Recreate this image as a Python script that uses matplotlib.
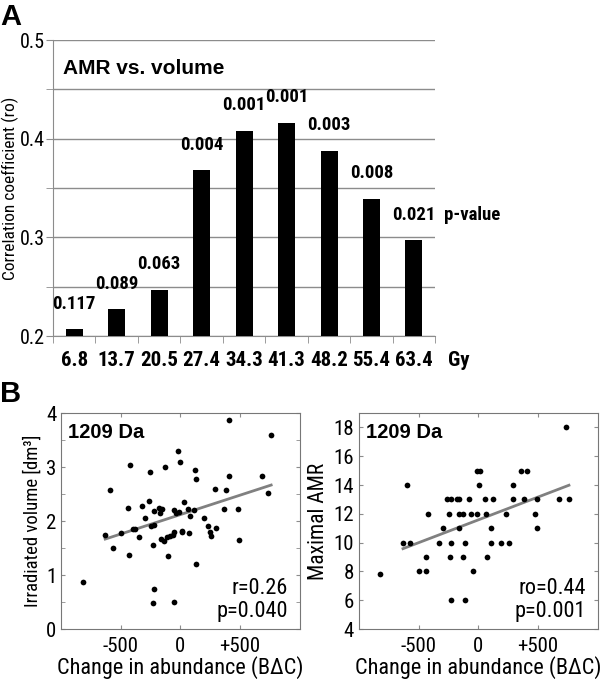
import numpy as np
import matplotlib
matplotlib.use("Agg")
import matplotlib.pyplot as plt
from matplotlib.ticker import FixedLocator

plt.rcParams['font.family'] = ['Roboto Condensed', 'Encode Sans Condensed', 'Roboto', 'DejaVu Sans']
WIDE = ['Liberation Sans', 'DejaVu Sans']

# panel A: correlation coefficient per dose level
dose_labels = ['6.8', '13.7', '20.5', '27.4', '34.3', '41.3', '48.2', '55.4', '63.4']
corr_ro = [0.207, 0.227, 0.247, 0.368, 0.408, 0.416, 0.388, 0.339, 0.297]
p_values = ['0.117', '0.089', '0.063', '0.004', '0.001', '0.001', '0.003', '0.008', '0.021']

# panel B left: change in abundance vs irradiated volume
vol_x = [-816, -628, -592, -567, -497, -433, -436, -419, -397, -377, -346, -324, -293,
         -260, -251, -246, -223, -223, -229, -223, -229, -176, -168, -156, -162, -134,
         -126, -112, -103, -84, -61, -56, -50, -50, -34, -22, -8, 0, 14, 17, 34, 67,
         70, 84, 120, 117, 131, 134, 201, 235, 246, 260, 293, 296, 369, 385, 408, 408,
         480, 494, 682, 735, 760]
vol_y = [0.88, 1.75, 2.58, 1.51, 1.78, 1.38, 2.25, 3.04, 1.86, 1.86, 1.71, 2.27, 2.05,
         2.37, 2.91, 1.91, 2.19, 1.92, 1.56, 0.75, 0.48, 2.24, 2.15, 2.23, 1.66, 1.63,
         3.00, 1.70, 1.36, 1.73, 1.75, 2.21, 1.80, 0.50, 2.15, 3.29, 2.17, 3.10, 1.80,
         1.82, 2.35, 2.22, 1.78, 2.10, 2.94, 2.21, 2.77, 1.21, 2.05, 1.90, 1.80, 1.72,
         2.60, 1.88, 2.22, 2.58, 3.88, 2.84, 2.23, 1.65, 2.83, 2.52, 3.59]
vol_fit = (0.00072, 2.12)   # slope, intercept of the drawn regression line

# panel B right: change in abundance vs maximal AMR
amr_x = [-821, -632, -593, -570, -500, -437, -437, -420, -325, -296, -258, -244, -230,
         -236, -230, -230, -180, -158, -163, -160, -130, -130, -107, -107, -74, -63,
         -40, -12, -7, 15, 7, 60, 63, 77, 107, 107, 127, 194, 233, 258, 294, 294, 358,
         381, 406, 476, 490, 495, 673, 732, 757]
amr_y = [7.8, 10, 14, 10, 8, 9, 8, 12, 10, 11, 13, 12, 13, 9, 10, 6, 13, 13, 11, 12, 12,
         9, 10, 6, 13, 12, 8, 12, 15, 15, 14, 13, 12, 9, 11, 10, 13, 10, 12, 10, 13, 14,
         15, 13, 15, 12, 11, 13, 13, 18, 13]
amr_fit = (0.00317, 11.58)

# regression lines were drawn over this abundance range
fit_range = [-630, 760]

grey = '#8c8c8c'

fig = plt.figure(figsize=(6, 6.79), dpi=100)

# ---------- panel A ----------
ax = fig.add_axes([0.0883, 0.505, 0.637, 0.436])
pos = np.arange(len(dose_labels))
ax.bar(pos, corr_ro, width=0.4, color='black', zorder=3)
ax.set_xlim(-0.5, len(dose_labels) - 0.5)
ax.set_ylim(0.2, 0.5)
ax.set_yticks([0.2, 0.3, 0.4, 0.5])
ax.set_yticklabels(['0.2', '0.3', '0.4', '0.5'])
ax.set_yticks([0.25, 0.35, 0.45], minor=True)
ax.grid(axis='y', which='both', color=grey, lw=1, zorder=0)
ax.set_xticks(pos)
ax.set_xticklabels(dose_labels, fontweight='bold', fontsize=15)
ax.xaxis.set_minor_locator(FixedLocator(np.arange(-0.5, len(dose_labels), 1)))
ax.tick_params(axis='x', which='major', length=0, pad=11)
ax.tick_params(axis='x', which='minor', length=5, color=grey, direction='out')
ax.tick_params(axis='y', which='both', length=5, color=grey, direction='out',
               labelsize=14.5, pad=1)
for s in ['top', 'right']:
    ax.spines[s].set_visible(False)
for s in ['left', 'bottom']:
    ax.spines[s].set_color(grey)
ax.set_ylabel('Correlation coefficient (ro)', fontsize=12.5)
ax.yaxis.set_label_coords(-0.09, 0.5)
for i, (v, p) in enumerate(zip(corr_ro, p_values)):
    ax.annotate(p, (i, v), xytext=(0, 12), textcoords='offset points', ha='center',
                va='bottom', fontweight='bold', fontsize=13.5)
ax.annotate('p-value', (len(dose_labels) - 0.5, corr_ro[-1]), xytext=(6, 12),
            textcoords='offset points', ha='left', va='bottom', fontweight='bold',
            fontsize=13.5)
ax.annotate('Gy', (len(dose_labels) - 0.5, 0), xycoords=('data', 'axes fraction'),
            xytext=(9, -11), textcoords='offset points', ha='left', va='top',
            fontweight='bold', fontsize=15)
ax.text(0.026, 0.885, 'AMR vs. volume', transform=ax.transAxes, fontsize=15,
        fontweight='bold', family=WIDE)
fig.text(0.0, 0.995, 'A', fontsize=21, fontweight='bold', va='top', family=WIDE)


# ---------- panel B ----------
def scatter_panel(rect, xs, ys, fit, ylim, yticks, yminor, ylabel, ylabel_size, stat_text):
    a = fig.add_axes(rect)
    a.scatter(xs, ys, s=17, color='black', zorder=3, linewidths=0)
    fx = np.array(fit_range, float)
    a.plot(fx, fit[0] * fx + fit[1], color='#808080', lw=2, zorder=2)
    a.set_xlim(-1000, 1000)
    a.set_ylim(*ylim)
    a.set_xticks([-500, 0, 500])
    a.set_xticklabels(['-500', '0', '+500'])
    a.set_yticks(yticks)
    if yminor is not None:
        a.set_yticks(yminor, minor=True)
    a.tick_params(which='both', direction='in', length=3, color=grey, top=True,
                  right=True, labelsize=15)
    a.tick_params(axis='x', pad=6)
    for s in a.spines.values():
        s.set_color('#777777')
    a.set_xlabel('Change in abundance (B\u0394C)', fontsize=16, labelpad=0)
    a.set_ylabel(ylabel, fontsize=ylabel_size, labelpad=3)
    a.text(0.03, 0.884, '1209 Da', transform=a.transAxes, fontsize=14.5,
           fontweight='bold', family=WIDE)
    a.text(0.95, 0.056, stat_text, transform=a.transAxes, fontsize=16, ha='right',
           va='baseline', linespacing=1.15)
    return a


scatter_panel([0.1017, 0.0736, 0.398, 0.318], vol_x, vol_y, vol_fit, (0, 4),
              [0, 1, 2, 3, 4], np.arange(0.5, 4, 1), 'Irradiated volume [dm\u00b3]', 13.5,
              'r=0.26\np=0.040')
scatter_panel([0.598, 0.0736, 0.398, 0.318], amr_x, amr_y, amr_fit, (4, 19),
              [4, 6, 8, 10, 12, 14, 16, 18], None, 'Maximal AMR', 15.5,
              'ro=0.44\np=0.001')
fig.text(0.0, 0.44, 'B', fontsize=21, fontweight='bold', va='top', family=WIDE)

fig.savefig('out.png', dpi=100)
